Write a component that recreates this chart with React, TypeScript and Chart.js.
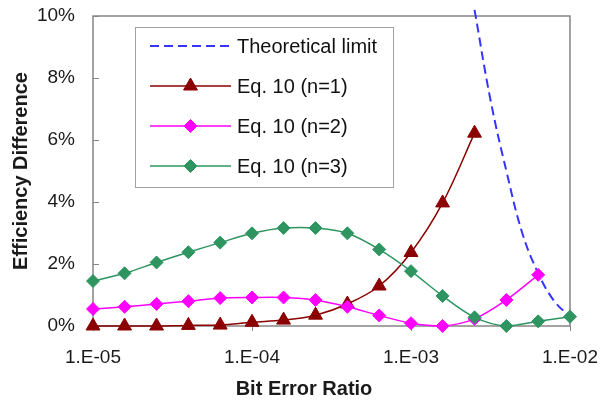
import React, { useEffect, useRef } from 'react';
import { Chart, registerables } from 'chart.js';
import { drawPoint } from 'chart.js/helpers';

Chart.register(...registerables);

// ---- data ----
const berValues = [
  1.0e-5, 1.58e-5, 2.51e-5, 3.98e-5, 6.31e-5,
  1.0e-4, 1.58e-4, 2.51e-4, 3.98e-4, 6.31e-4,
  1.0e-3, 1.58e-3, 2.51e-3, 3.98e-3, 6.31e-3, 1.0e-2,
];
const eqN1 = [0.0, 0.0, 0.0, 0.02, 0.03, 0.12, 0.19, 0.35, 0.71, 1.29, 2.37, 3.97, 6.22];
const eqN2 = [0.55, 0.62, 0.71, 0.8, 0.9, 0.92, 0.92, 0.84, 0.62, 0.34, 0.09, 0.0, 0.23, 0.84, 1.65];
const eqN3 = [1.45, 1.7, 2.05, 2.38, 2.69, 2.99, 3.16, 3.16, 2.99, 2.47, 1.77, 0.97, 0.28, 0.0, 0.15, 0.3];
const limitBer = [2.51e-3, 3.16e-3, 3.98e-3, 5.01e-3, 6.31e-3, 7.94e-3, 1.0e-2];
const limitValues = [10.2, 7.3, 5.0, 3.0, 1.7, 0.81, 0.3];

const seriesNames = ['Theoretical limit', 'Eq. 10 (n=1)', 'Eq. 10 (n=2)', 'Eq. 10 (n=3)'];
const xTickValues = [1e-5, 1e-4, 1e-3, 1e-2];
const xTickLabels = ['1.E-05', '1.E-04', '1.E-03', '1.E-02'];
const yTickValues = [0, 2, 4, 6, 8, 10];
const xTitle = 'Bit Error Ratio';
const yTitle = 'Efficiency Difference';

const FONT = '"Liberation Sans", Arial, sans-serif';
const TEXT = '#1a1a1a';
const FRAME = '#858585';

const toPoints = (xs: number[], ys: number[]) => ys.map((y, i) => ({ x: xs[i], y }));

const framePlugin = {
  id: 'frameTicks',
  beforeDatasetsDraw(chart: any) {
    const { ctx, chartArea: a, scales } = chart;
    ctx.save();
    ctx.strokeStyle = FRAME;
    ctx.lineWidth = 1.5;
    ctx.strokeRect(a.left, a.top, a.right - a.left, a.bottom - a.top);
    ctx.lineWidth = 1;
    ctx.beginPath();
    for (const v of yTickValues) {
      const y = Math.round(scales.y.getPixelForValue(v)) + 0.5;
      ctx.moveTo(a.left, y);
      ctx.lineTo(a.left + 6, y);
    }
    for (const v of xTickValues) {
      const x = Math.round(scales.x.getPixelForValue(v)) + 0.5;
      ctx.moveTo(x, a.bottom);
      ctx.lineTo(x, a.bottom + 5);
    }
    ctx.stroke();
    ctx.restore();
  },
};

const legendPlugin = {
  id: 'boxLegend',
  afterDraw(chart: any) {
    const { ctx } = chart;
    const bx = 135, by = 27, bw = 258, bh = 160;
    ctx.save();
    ctx.fillStyle = '#ffffff';
    ctx.fillRect(bx, by, bw, bh);
    ctx.strokeStyle = '#a0a0a0';
    ctx.lineWidth = 1;
    ctx.strokeRect(bx + 0.5, by + 0.5, bw, bh);
    chart.data.datasets.forEach((ds: any, i: number) => {
      const y = by + 19 + i * 40;
      ctx.save();
      ctx.strokeStyle = ds.borderColor;
      ctx.lineWidth = ds.borderWidth;
      ctx.setLineDash(ds.borderDash || []);
      ctx.beginPath();
      ctx.moveTo(bx + 15, y);
      ctx.lineTo(bx + 96, y);
      ctx.stroke();
      ctx.restore();
      if (ds.pointRadius > 0) {
        ctx.save();
        ctx.fillStyle = ds.pointBackgroundColor;
        ctx.strokeStyle = ds.pointBorderColor;
        ctx.lineWidth = 1;
        drawPoint(ctx, { pointStyle: ds.pointStyle, radius: ds.pointRadius, rotation: 0, borderWidth: 1 }, bx + 55.5, y);
        ctx.restore();
      }
      ctx.fillStyle = '#111';
      ctx.font = `20px ${FONT}`;
      ctx.textAlign = 'left';
      ctx.textBaseline = 'middle';
      ctx.fillText(seriesNames[i], bx + 102, y + 1);
    });
    ctx.fillStyle = TEXT;
    ctx.font = `bold 20px ${FONT}`;
    ctx.textAlign = 'center';
    ctx.textBaseline = 'middle';
    ctx.fillText(xTitle, 304, 389);
    ctx.restore();
  },
};

export default function App() {
  const ref = useRef<HTMLCanvasElement>(null);

  useEffect(() => {
    const red = '#8b0000';
    const magenta = '#ff00ff';
    const green = '#2e9560';
    const blue = '#3535ff';
    const chart = new Chart(ref.current as HTMLCanvasElement, {
      type: 'line',
      data: {
        datasets: [
          {
            label: seriesNames[0],
            data: toPoints(limitBer, limitValues),
            borderColor: blue,
            borderWidth: 2,
            borderDash: [9, 5],
            pointRadius: 0,
            tension: 0.4,
            clip: false,
            order: 4,
          } as any,
          {
            label: seriesNames[1],
            data: toPoints(berValues, eqN1),
            borderColor: red,
            backgroundColor: red,
            borderWidth: 1.5,
            pointStyle: 'triangle',
            pointRadius: 8,
            pointBackgroundColor: red,
            pointBorderColor: red,
            pointBorderWidth: 1,
            tension: 0.35,
            clip: false,
            order: 3,
          },
          {
            label: seriesNames[2],
            data: toPoints(berValues, eqN2),
            borderColor: magenta,
            backgroundColor: magenta,
            borderWidth: 1.5,
            pointStyle: 'rectRot',
            pointRadius: 6.5,
            pointBackgroundColor: magenta,
            pointBorderColor: magenta,
            pointBorderWidth: 1,
            tension: 0.3,
            clip: false,
            order: 2,
          },
          {
            label: seriesNames[3],
            data: toPoints(berValues, eqN3),
            borderColor: green,
            backgroundColor: green,
            borderWidth: 1.5,
            pointStyle: 'rectRot',
            pointRadius: 6.5,
            pointBackgroundColor: green,
            pointBorderColor: green,
            pointBorderWidth: 1,
            tension: 0.3,
            clip: false,
            order: 1,
          },
        ],
      },
      options: {
        animation: false,
        responsive: false,
        maintainAspectRatio: false,
        layout: { padding: { left: 0, top: 16, right: 32, bottom: 0 } },
        plugins: { legend: { display: false }, tooltip: { enabled: false } },
        scales: {
          x: {
            type: 'logarithmic',
            min: 1e-5,
            max: 1e-2,
            afterBuildTicks: (s: any) => {
              s.ticks = xTickValues.map((value) => ({ value }));
            },
            afterFit: (s: any) => {
              s.height = 76;
              s.paddingLeft = 0;
              s.paddingRight = 0;
            },
            grid: { display: false, drawTicks: false },
            border: { display: false },
            ticks: {
              autoSkip: false,
              maxRotation: 0,
              minRotation: 0,
              padding: 20,
              color: TEXT,
              font: { family: FONT, size: 19 },
              callback: (_v: any, i: number) => xTickLabels[i],
            },
          },
          y: {
            type: 'linear',
            min: 0,
            max: 10,
            afterBuildTicks: (s: any) => {
              s.ticks = yTickValues.map((value) => ({ value }));
            },
            afterFit: (s: any) => {
              s.width = 93;
              s.paddingTop = 0;
              s.paddingBottom = 0;
            },
            grid: { display: false, drawTicks: false },
            border: { display: false },
            ticks: {
              padding: 18,
              color: TEXT,
              font: { family: FONT, size: 19 },
              callback: (v: any) => `${v}%`,
            },
            title: {
              display: true,
              text: yTitle,
              color: TEXT,
              font: { family: FONT, size: 20, weight: 'bold' },
              padding: { top: 9, bottom: 0 },
            },
          },
        },
      } as any,
      plugins: [framePlugin, legendPlugin],
    });
    return () => chart.destroy();
  }, []);

  return (
    <div style={{ position: 'fixed', left: 0, top: 0, width: 602, height: 402, background: '#fff' }}>
      <canvas ref={ref} width={602} height={402} style={{ display: 'block', width: 602, height: 402 }} />
    </div>
  );
}
